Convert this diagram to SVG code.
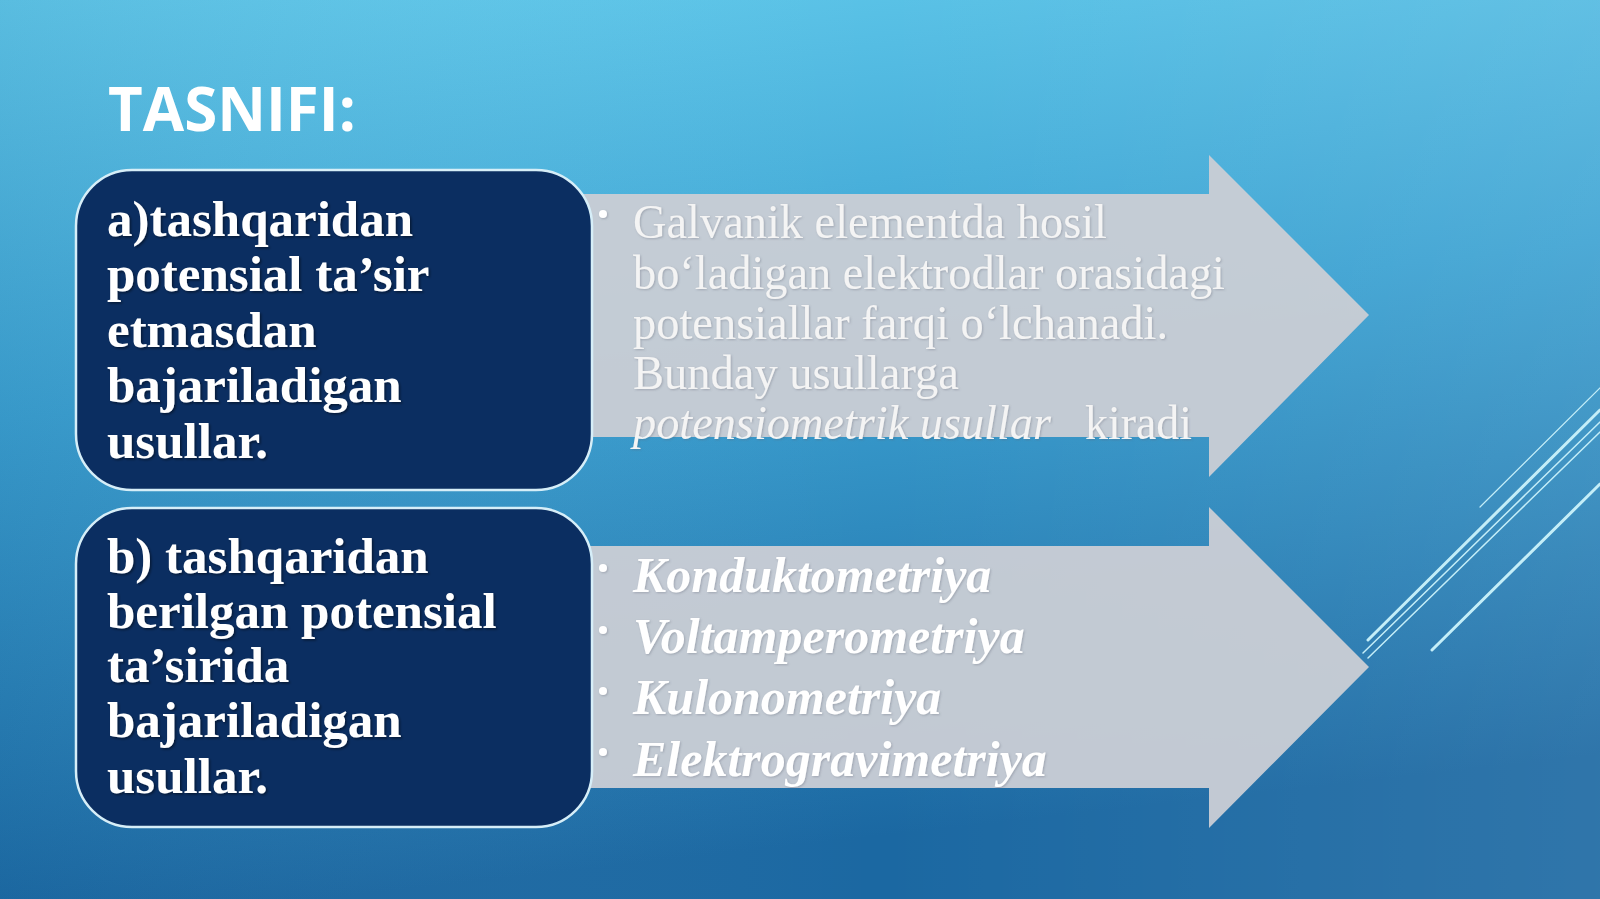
<svg xmlns="http://www.w3.org/2000/svg" width="1600" height="899" viewBox="0 0 1600 899">
<defs>
<linearGradient id="bg" x1="0" y1="0" x2="0.2" y2="1">
<stop offset="0" stop-color="#62cbec"/>
<stop offset="0.45" stop-color="#3ca2d2"/>
<stop offset="1" stop-color="#1b68a2"/>
</linearGradient>
<linearGradient id="bgr" x1="0" y1="0" x2="1" y2="0">
<stop offset="0" stop-color="#0a3a70" stop-opacity="0.1"/>
<stop offset="0.55" stop-color="#ffffff" stop-opacity="0"/>
<stop offset="1" stop-color="#ffffff" stop-opacity="0.09"/>
</linearGradient>
<filter id="sh" x="-5%" y="-20%" width="110%" height="140%">
<feDropShadow dx="1.5" dy="1.5" stdDeviation="1" flood-color="#000" flood-opacity="0.45"/>
</filter>
<filter id="shl" x="-5%" y="-20%" width="110%" height="140%">
<feDropShadow dx="1" dy="1" stdDeviation="0.8" flood-color="#5a6070" flood-opacity="0.35"/>
</filter>
</defs>
<style>
.title{font-family:"Open Sans","Noto Sans",sans-serif;font-weight:bold;font-size:60px;fill:#ffffff}
.box{fill:#0b2e61;stroke:#d6eef8;stroke-width:2.5}
.bt{font-family:"Liberation Serif",serif;font-weight:bold;font-size:51px;fill:#ffffff}
.arrow{fill:#c9cdd4;fill-opacity:0.96}
.at{font-family:"Liberation Serif",serif;font-size:48px;fill:#f4f4f4}
.ai{font-family:"Liberation Serif",serif;font-size:50px;font-style:italic;font-weight:bold;fill:#ffffff}
.dot{fill:#ffffff}
.deco{stroke:#c4eef8;fill:none;stroke-linecap:round}
</style>
<rect width="1600" height="899" fill="url(#bg)"/>
<rect width="1600" height="899" fill="url(#bgr)"/>

<g id="deco-lines">
<line class="deco" x1="1480" y1="507" x2="1600" y2="388" stroke-width="1.2"/>
<line class="deco" x1="1368" y1="640" x2="1600" y2="410" stroke-width="3"/>
<line class="deco" x1="1363" y1="653" x2="1600" y2="422" stroke-width="1.5"/>
<line class="deco" x1="1368" y1="658" x2="1600" y2="432" stroke-width="1.5"/>
<line class="deco" x1="1432" y1="650" x2="1600" y2="484" stroke-width="3"/>
</g>

<text class="title" x="108" y="131">TASNIFI:</text>

<g id="connectors">
<polygon id="arrow-1" class="arrow" points="560,194 1209,194 1209,155 1369,315 1209,477 1209,437 560,437"/>
<polygon id="arrow-2" class="arrow" points="560,546 1209,546 1209,507 1369,667 1209,828 1209,788 560,788"/>
</g>

<g id="node-arrow1-text" filter="url(#shl)">
<circle class="dot" cx="603" cy="214" r="4"/>
<text class="at" x="633" y="238" textLength="474" lengthAdjust="spacingAndGlyphs">Galvanik elementda hosil</text>
<text class="at" x="633" y="289" textLength="592" lengthAdjust="spacingAndGlyphs">bo‘ladigan elektrodlar orasidagi</text>
<text class="at" x="633" y="339" textLength="535" lengthAdjust="spacingAndGlyphs">potensiallar farqi o‘lchanadi.</text>
<text class="at" x="633" y="389" textLength="326" lengthAdjust="spacingAndGlyphs">Bunday usullarga</text>
<text class="at" x="633" y="439" font-style="italic" textLength="418" lengthAdjust="spacingAndGlyphs">potensiometrik usullar</text>
<text class="at" x="1085" y="439" textLength="107" lengthAdjust="spacingAndGlyphs">kiradi</text>
</g>

<g id="node-arrow2-text" filter="url(#shl)">
<circle class="dot" cx="603" cy="568" r="4"/>
<circle class="dot" cx="603" cy="630" r="4"/>
<circle class="dot" cx="603" cy="691" r="4"/>
<circle class="dot" cx="603" cy="752" r="4"/>
<text class="ai" x="633" y="592">Konduktometriya</text>
<text class="ai" x="633" y="653">Voltamperometriya</text>
<text class="ai" x="633" y="714">Kulonometriya</text>
<text class="ai" x="633" y="776">Elektrogravimetriya</text>
</g>

<g id="node-a">
<rect class="box" x="76" y="170" width="516" height="320" rx="56" ry="56"/>
<g filter="url(#sh)">
<text class="bt" x="107" y="236">a)tashqaridan</text>
<text class="bt" x="107" y="291">potensial ta’sir</text>
<text class="bt" x="107" y="347">etmasdan</text>
<text class="bt" x="107" y="402">bajariladigan</text>
<text class="bt" x="107" y="458">usullar.</text>
</g>
</g>

<g id="node-b">
<rect class="box" x="76" y="508" width="516" height="319" rx="56" ry="56"/>
<g filter="url(#sh)">
<text class="bt" x="107" y="573">b) tashqaridan</text>
<text class="bt" x="107" y="628">berilgan potensial</text>
<text class="bt" x="107" y="682">ta’sirida</text>
<text class="bt" x="107" y="737">bajariladigan</text>
<text class="bt" x="107" y="793">usullar.</text>
</g>
</g>
</svg>
